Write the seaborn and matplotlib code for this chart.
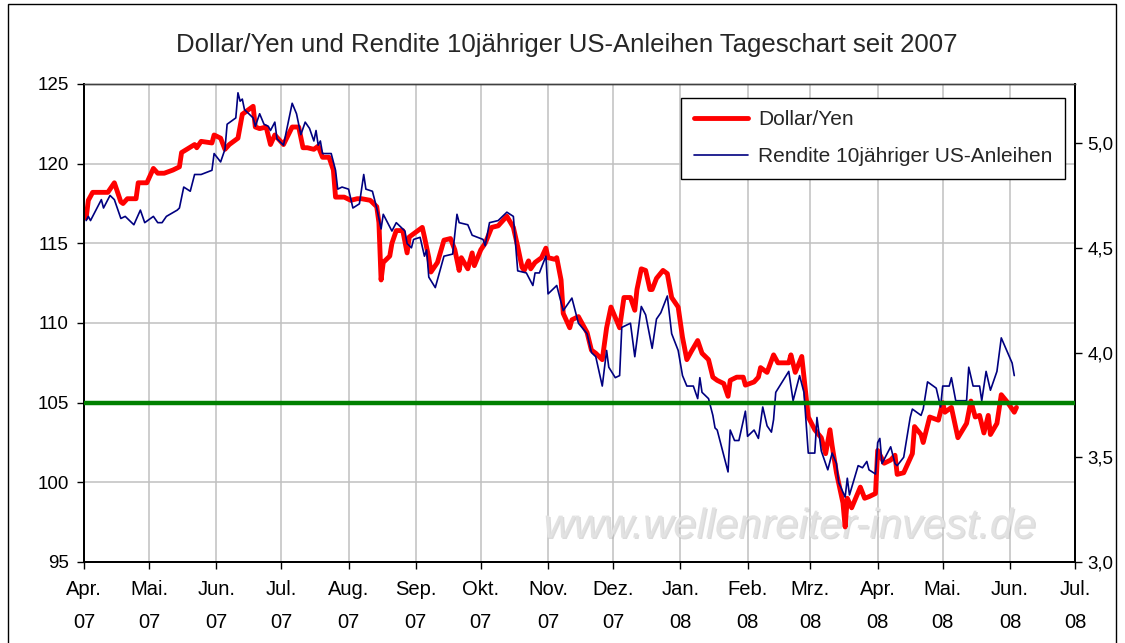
### dollar/yen and 10y us treasury yield
#   daily chart since april 2007, two y axes

# import statements
from matplotlib.lines      import Line2D
from matplotlib.patches    import Rectangle
from matplotlib.transforms import blended_transform_factory
import matplotlib.patheffects as pe
import matplotlib.pyplot as plt
import pandas as pd
import seaborn as sns

# dollar/yen (left axis)
yen_dates = [
    '2007-04-02', '2007-04-03', '2007-04-05', '2007-04-12', '2007-04-15',
    '2007-04-18', '2007-04-19', '2007-04-21', '2007-04-25', '2007-04-26',
    '2007-04-30', '2007-05-03', '2007-05-05', '2007-05-08', '2007-05-12',
    '2007-05-15', '2007-05-16', '2007-05-22', '2007-05-23', '2007-05-25',
    '2007-05-30', '2007-05-31', '2007-06-03', '2007-06-05', '2007-06-07',
    '2007-06-11', '2007-06-13', '2007-06-18', '2007-06-19', '2007-06-21',
    '2007-06-24', '2007-06-26', '2007-06-28', '2007-07-02', '2007-07-06',
    '2007-07-09', '2007-07-11', '2007-07-13', '2007-07-16', '2007-07-18',
    '2007-07-20', '2007-07-23', '2007-07-25', '2007-07-26', '2007-07-30',
    '2007-08-02', '2007-08-05', '2007-08-07', '2007-08-11', '2007-08-14',
    '2007-08-15', '2007-08-16', '2007-08-17', '2007-08-20', '2007-08-21',
    '2007-08-23', '2007-08-26', '2007-08-28', '2007-08-29', '2007-09-04',
    '2007-09-05', '2007-09-07', '2007-09-08', '2007-09-11', '2007-09-14',
    '2007-09-17', '2007-09-19', '2007-09-21', '2007-09-22', '2007-09-25',
    '2007-09-27', '2007-09-28', '2007-10-01', '2007-10-03', '2007-10-06',
    '2007-10-09', '2007-10-13', '2007-10-16', '2007-10-18', '2007-10-20',
    '2007-10-21', '2007-10-23', '2007-10-24', '2007-10-26', '2007-10-29',
    '2007-10-31', '2007-11-01', '2007-11-04', '2007-11-05', '2007-11-07',
    '2007-11-08', '2007-11-11', '2007-11-12', '2007-11-15', '2007-11-19',
    '2007-11-21', '2007-11-23', '2007-11-26', '2007-11-28', '2007-11-30',
    '2007-12-04', '2007-12-06', '2007-12-09', '2007-12-11', '2007-12-12',
    '2007-12-14', '2007-12-16', '2007-12-18', '2007-12-19', '2007-12-21',
    '2007-12-24', '2007-12-26', '2007-12-28', '2007-12-31', '2008-01-02',
    '2008-01-04', '2008-01-06', '2008-01-09', '2008-01-11', '2008-01-14',
    '2008-01-16', '2008-01-18', '2008-01-21', '2008-01-23', '2008-01-24',
    '2008-01-27', '2008-01-30', '2008-01-31', '2008-02-04', '2008-02-06',
    '2008-02-07', '2008-02-10', '2008-02-13', '2008-02-15', '2008-02-20',
    '2008-02-21', '2008-02-23', '2008-02-26', '2008-02-28', '2008-02-29',
    '2008-03-03', '2008-03-06', '2008-03-08', '2008-03-10', '2008-03-11',
    '2008-03-13', '2008-03-16', '2008-03-17', '2008-03-18', '2008-03-20',
    '2008-03-24', '2008-03-26', '2008-03-28', '2008-03-31', '2008-04-01',
    '2008-04-04', '2008-04-07', '2008-04-09', '2008-04-10', '2008-04-13',
    '2008-04-15', '2008-04-17', '2008-04-18', '2008-04-21', '2008-04-22',
    '2008-04-25', '2008-04-29', '2008-05-01', '2008-05-02', '2008-05-05',
    '2008-05-08', '2008-05-12', '2008-05-14', '2008-05-16', '2008-05-18',
    '2008-05-20', '2008-05-22', '2008-05-23', '2008-05-26', '2008-05-28',
    '2008-05-31', '2008-06-03', '2008-06-04']
yen_values = [
    116.6, 117.7, 118.2, 118.2, 118.8, 117.6, 117.5, 117.8, 117.8, 118.8,
    118.8, 119.7, 119.4, 119.4, 119.6, 119.8, 120.7, 121.2, 121.0, 121.4,
    121.3, 121.8, 121.6, 120.9, 121.2, 121.6, 123.1, 123.6, 122.3, 122.2,
    122.3, 121.2, 121.8, 121.2, 122.3, 122.3, 121.0, 121.0, 120.9, 121.1,
    120.4, 120.4, 119.6, 117.9, 117.9, 117.7, 117.8, 117.8, 117.7, 117.3,
    116.3, 112.7, 113.8, 114.2, 115.0, 115.8, 115.8, 114.4, 115.4, 116.0,
    115.4, 114.1, 113.2, 113.8, 115.2, 115.3, 114.6, 113.3, 114.1, 113.4,
    114.4, 113.6, 114.6, 115.0, 116.0, 116.1, 116.7, 116.0, 114.8, 113.5,
    113.3, 113.9, 113.4, 113.8, 114.1, 114.7, 114.1, 114.0, 114.1, 112.7,
    110.6, 109.7, 110.2, 110.4, 109.4, 108.3, 108.1, 107.7, 109.7, 111.0,
    109.7, 111.6, 111.6, 110.8, 112.1, 113.4, 113.3, 112.1, 112.1, 112.8,
    113.3, 113.1, 111.6, 111.0, 109.1, 107.7, 108.2, 108.9, 108.1, 107.7,
    106.6, 106.4, 106.2, 105.4, 106.4, 106.6, 106.6, 106.1, 106.3, 106.6,
    107.2, 106.9, 108.0, 107.5, 107.5, 108.0, 106.9, 107.9, 105.4, 104.1,
    103.3, 102.8, 101.8, 103.3, 102.3, 100.6, 98.7, 97.2, 99.0, 98.4,
    99.7, 99.0, 99.1, 99.3, 102.0, 101.2, 101.4, 101.7, 100.5, 100.6,
    101.2, 101.8, 103.5, 103.0, 102.5, 104.1, 103.9, 105.0, 104.4, 104.7,
    102.8, 103.7, 105.1, 104.1, 104.2, 103.1, 104.2, 103.0, 103.7, 105.5,
    105.0, 104.4, 104.7]

# yield of 10 year us treasuries (right axis)
yield_dates = [
    '2007-04-02', '2007-04-03', '2007-04-04', '2007-04-09', '2007-04-10',
    '2007-04-13', '2007-04-15', '2007-04-18', '2007-04-20', '2007-04-24',
    '2007-04-27', '2007-04-29', '2007-05-03', '2007-05-05', '2007-05-07',
    '2007-05-09', '2007-05-14', '2007-05-15', '2007-05-17', '2007-05-20',
    '2007-05-22', '2007-05-25', '2007-05-30', '2007-05-31', '2007-06-03',
    '2007-06-05', '2007-06-06', '2007-06-10', '2007-06-11', '2007-06-12',
    '2007-06-13', '2007-06-14', '2007-06-18', '2007-06-19', '2007-06-21',
    '2007-06-23', '2007-06-25', '2007-06-26', '2007-06-28', '2007-06-29',
    '2007-07-02', '2007-07-06', '2007-07-08', '2007-07-10', '2007-07-12',
    '2007-07-14', '2007-07-16', '2007-07-17', '2007-07-18', '2007-07-19',
    '2007-07-20', '2007-07-24', '2007-07-26', '2007-07-27', '2007-07-29',
    '2007-08-01', '2007-08-03', '2007-08-06', '2007-08-08', '2007-08-09',
    '2007-08-12', '2007-08-14', '2007-08-16', '2007-08-17', '2007-08-21',
    '2007-08-23', '2007-08-27', '2007-08-28', '2007-08-30', '2007-08-31',
    '2007-09-03', '2007-09-05', '2007-09-06', '2007-09-07', '2007-09-10',
    '2007-09-14', '2007-09-18', '2007-09-20', '2007-09-21', '2007-09-25',
    '2007-09-27', '2007-10-02', '2007-10-03', '2007-10-05', '2007-10-09',
    '2007-10-13', '2007-10-16', '2007-10-18', '2007-10-22', '2007-10-25',
    '2007-10-26', '2007-10-28', '2007-10-31', '2007-11-01', '2007-11-05',
    '2007-11-08', '2007-11-12', '2007-11-15', '2007-11-19', '2007-11-21',
    '2007-11-23', '2007-11-26', '2007-11-28', '2007-11-29', '2007-12-02',
    '2007-12-04', '2007-12-05', '2007-12-09', '2007-12-11', '2007-12-14',
    '2007-12-16', '2007-12-19', '2007-12-21', '2007-12-23', '2007-12-26',
    '2007-12-28', '2007-12-31', '2008-01-02', '2008-01-04', '2008-01-07',
    '2008-01-09', '2008-01-10', '2008-01-11', '2008-01-14', '2008-01-16',
    '2008-01-17', '2008-01-18', '2008-01-23', '2008-01-24', '2008-01-26',
    '2008-01-28', '2008-01-31', '2008-02-01', '2008-02-04', '2008-02-06',
    '2008-02-08', '2008-02-10', '2008-02-12', '2008-02-13', '2008-02-14',
    '2008-02-20', '2008-02-22', '2008-02-25', '2008-02-27', '2008-02-29',
    '2008-03-03', '2008-03-04', '2008-03-06', '2008-03-09', '2008-03-11',
    '2008-03-13', '2008-03-14', '2008-03-17', '2008-03-18', '2008-03-19',
    '2008-03-23', '2008-03-25', '2008-03-27', '2008-03-28', '2008-03-31',
    '2008-04-01', '2008-04-02', '2008-04-03', '2008-04-07', '2008-04-09',
    '2008-04-10', '2008-04-13', '2008-04-16', '2008-04-17', '2008-04-21',
    '2008-04-22', '2008-04-24', '2008-04-28', '2008-04-30', '2008-05-01',
    '2008-05-04', '2008-05-05', '2008-05-07', '2008-05-12', '2008-05-13',
    '2008-05-15', '2008-05-18', '2008-05-19', '2008-05-21', '2008-05-23',
    '2008-05-26', '2008-05-28', '2008-06-02', '2008-06-03']
yield_values = [
    4.63, 4.65, 4.63, 4.73, 4.69, 4.75, 4.73, 4.64, 4.65, 4.61,
    4.68, 4.62, 4.65, 4.62, 4.62, 4.65, 4.68, 4.69, 4.79, 4.77,
    4.85, 4.85, 4.87, 4.95, 4.91, 4.97, 5.09, 5.12, 5.24, 5.20,
    5.21, 5.16, 5.12, 5.08, 5.14, 5.09, 5.08, 5.06, 5.10, 5.02,
    4.99, 5.19, 5.14, 5.04, 5.10, 5.07, 5.01, 5.06, 4.99, 5.01,
    4.95, 4.95, 4.87, 4.78, 4.79, 4.78, 4.69, 4.71, 4.85, 4.78,
    4.77, 4.69, 4.59, 4.66, 4.58, 4.62, 4.58, 4.52, 4.50, 4.54,
    4.55, 4.46, 4.49, 4.36, 4.31, 4.46, 4.47, 4.66, 4.62, 4.61,
    4.56, 4.54, 4.51, 4.62, 4.63, 4.67, 4.65, 4.39, 4.38, 4.32,
    4.38, 4.38, 4.46, 4.28, 4.32, 4.20, 4.26, 4.14, 4.09, 4.00,
    3.98, 3.84, 4.01, 3.93, 3.88, 3.89, 4.12, 4.14, 3.98, 4.22,
    4.18, 4.02, 4.16, 4.19, 4.27, 4.09, 4.01, 3.89, 3.84, 3.84,
    3.78, 3.88, 3.81, 3.78, 3.70, 3.64, 3.63, 3.43, 3.63, 3.58,
    3.58, 3.72, 3.60, 3.63, 3.59, 3.74, 3.65, 3.62, 3.68, 3.81,
    3.91, 3.77, 3.89, 3.81, 3.52, 3.52, 3.69, 3.53, 3.44, 3.52,
    3.47, 3.38, 3.31, 3.40, 3.32, 3.46, 3.45, 3.48, 3.44, 3.42,
    3.57, 3.59, 3.47, 3.55, 3.47, 3.46, 3.50, 3.69, 3.73, 3.70,
    3.73, 3.86, 3.83, 3.74, 3.84, 3.84, 3.88, 3.77, 3.77, 3.93,
    3.84, 3.84, 3.77, 3.91, 3.82, 3.91, 4.07, 3.95, 3.89]

# axis ticks and labels
month_starts = pd.date_range('2007-04-01', '2008-07-01', freq = 'MS')
month_labels = ['Apr.\n07', 'Mai.\n07', 'Jun.\n07', 'Jul.\n07', 'Aug.\n07',
                'Sep.\n07', 'Okt.\n07', 'Nov.\n07', 'Dez.\n07', 'Jan.\n08',
                'Feb.\n08', 'Mrz.\n08', 'Apr.\n08', 'Mai.\n08', 'Jun.\n08',
                'Jul.\n08']
yen_ticks    = [95, 100, 105, 110, 115, 120, 125]
yield_ticks  = [3.0, 3.5, 4.0, 4.5, 5.0]
yield_labels = ['3,0', '3,5', '4,0', '4,5', '5,0']
mark_level   = 105

# build data frames
yen_df   = pd.DataFrame({'date': pd.to_datetime(yen_dates),
                         'value': yen_values})
yield_df = pd.DataFrame({'date': pd.to_datetime(yield_dates),
                         'value': yield_values})

# graphical parameters
sns.set_theme(style = 'white')
plt.rcParams['font.family'] = ['Liberation Sans', 'DejaVu Sans']

fig = plt.figure(figsize = (11.25, 6.43), dpi = 100)
ax  = fig.add_axes([84 / 1125, 1 - 562 / 643, 991 / 1125, 478 / 643])
ax2 = ax.twinx()

# draw both series
sns.lineplot(data = yen_df, x = 'date', y = 'value', ax = ax,
             color = '#ff0000', linewidth = 3.5, legend = False)
sns.lineplot(data = yield_df, x = 'date', y = 'value', ax = ax2,
             color = '#000080', linewidth = 1.2, legend = False)

# horizontal mark at 105 yen, on top of both series
trans = blended_transform_factory(ax2.transAxes, ax.transData)
ax2.add_line(Line2D([0, 1], [mark_level, mark_level], transform = trans,
                    color = '#008000', linewidth = 3.2, zorder = 5))

# axes limits and ticks
ax.set_xlim(month_starts[0], month_starts[-1])
ax.set_ylim(95, 125)
ax2.set_ylim(3.0, 5.282)
ax.set_xticks(month_starts)
ax.set_xticklabels(month_labels, linespacing = 1.9)
ax.set_yticks(yen_ticks)
ax2.set_yticks(yield_ticks)
ax2.set_yticklabels(yield_labels)
ax.set_xlabel('')
ax.set_ylabel('')
ax2.set_ylabel('')

# grid lines
ax.grid(True, axis = 'both', color = '#c0c0c0', linewidth = 1.1)
ax.set_axisbelow(True)

# tick style
ax.tick_params(axis = 'both', direction = 'out', length = 5, width = 1,
               color = 'black', labelsize = 13.5, labelcolor = 'black',
               left = True, bottom = True)
ax.tick_params(axis = 'x', pad = 8, labelsize = 14.5)
ax.tick_params(axis = 'y', pad = 6)
ax2.tick_params(axis = 'y', direction = 'out', length = 5, width = 1,
                color = 'black', labelsize = 13.5, labelcolor = 'black',
                right = True, pad = 4)

# spines
for a in (ax, ax2):
    for side in ['left', 'right', 'bottom']:
        a.spines[side].set_color('black')
        a.spines[side].set_linewidth(1.3)
    a.spines['top'].set_color('#404040')
    a.spines['top'].set_linewidth(1.0)

# title
fig.text(567 / 1125, 1 - 45 / 643,
         'Dollar/Yen und Rendite 10jähriger US-Anleihen Tageschart seit 2007',
         ha = 'center', va = 'center', fontsize = 18.5)

# watermark
ax.text(0.712, 0.074, 'www.wellenreiter-invest.de', transform = ax.transAxes,
        ha = 'center', va = 'center', fontsize = 30, style = 'italic',
        color = '#e2e2e2', zorder = 1,
        path_effects = [pe.withSimplePatchShadow(offset = (1, -1),
                                                 shadow_rgbFace = '#b0b0b0',
                                                 alpha = 0.45)])

# legend
handles = [Line2D([], [], color = '#ff0000', linewidth = 3.5),
           Line2D([], [], color = '#000080', linewidth = 1.2)]
leg = ax2.legend(handles, ['Dollar/Yen', 'Rendite 10jähriger US-Anleihen'],
                 loc = 'upper right', bbox_to_anchor = (0.990, 0.971),
                 borderaxespad = 0, fontsize = 15, frameon = True,
                 fancybox = False, edgecolor = 'black', framealpha = 1,
                 handlelength = 2.6, handletextpad = 0.5, borderpad = 0.6,
                 labelspacing = 0.85)
leg.get_frame().set_linewidth(1.0)
leg.set_zorder(10)

# outer chart border
fig.add_artist(Rectangle((8 / 1125, -0.02), 1108 / 1125, 1 - 4 / 643 + 0.02,
                         transform = fig.transFigure, fill = False,
                         edgecolor = 'black', linewidth = 1.0))

# save figure
fig.savefig('out.png', dpi = 100)
